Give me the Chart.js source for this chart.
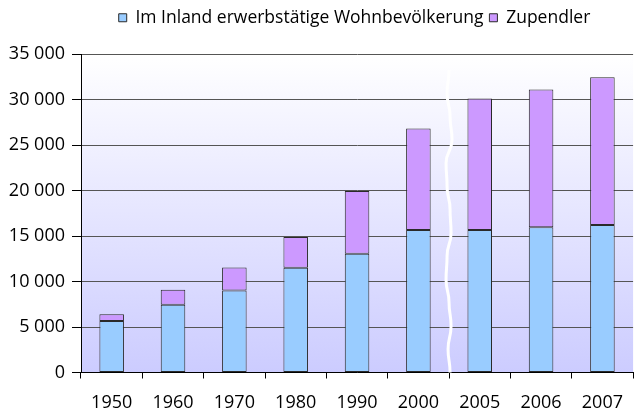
<!DOCTYPE html>
<html>
<head>
<meta charset="utf-8">
<script src="https://cdn.jsdelivr.net/npm/chart.js@4"></script>
<style>
  html, body { margin: 0; padding: 0; background: #fff; }
  #wrap { width: 635px; height: 409px; }
</style>
</head>
<body>
<div id="wrap"><canvas id="chart"></canvas></div>
<script>
const years = ["1950", "1960", "1970", "1980", "1990", "2000", "2005", "2006", "2007"];
const wohnbevoelkerung = [5650, 7450, 9000, 11500, 13050, 15650, 15650, 15950, 16200];
const zupendler = [750, 1650, 2550, 3400, 6900, 11150, 14450, 15150, 16250];
const yTicks = [0, 5000, 10000, 15000, 20000, 25000, 30000, 35000];

const FONT = "'Open Sans', 'DejaVu Sans', sans-serif";

function fmt(v) {
  return String(v).replace(/\B(?=(\d{3})+(?!\d))/g, " ");
}

// gradient behind the plot area
const bgPlugin = {
  id: "bg",
  beforeDraw(chart) {
    const { ctx, chartArea: a } = chart;
    const g = ctx.createLinearGradient(0, a.top, 0, a.bottom);
    g.addColorStop(0, "#ffffff");
    g.addColorStop(1, "#ccccff");
    ctx.save();
    ctx.fillStyle = g;
    ctx.fillRect(a.left, a.top, a.right - a.left, a.bottom - a.top);
    ctx.restore();
  }
};

// legend band: fixed height, and centred a bit right of the canvas middle like the original
const legendPlace = {
  id: "legendPlace",
  beforeUpdate(chart) {
    const lg = chart.legend;
    if (!lg || lg._fixed) return;
    const fit = lg.fit;
    lg.fit = function () {
      fit.call(this);
      this.height = 54;
    };
    lg._fixed = true;
  },
  afterLayout(chart) {
    const lg = chart.legend;
    if (!lg) return;
    lg.left += 74;
    lg.top += 3;
  }
};

// white wavy axis-break line between 2000 and 2005
const breakPlugin = {
  id: "axisBreak",
  afterDatasetsDraw(chart) {
    const { ctx, chartArea: a, scales } = chart;
    const x0 = (scales.x.getPixelForValue(5) + scales.x.getPixelForValue(6)) / 2;
    const wiggle = [0, -2, 1, 3, -3, -2, 1, 2, -2, -3, 0, 2, -1, 1];
    const top = a.top + 16;
    const step = (a.bottom - top) / (wiggle.length - 1);
    ctx.save();
    ctx.strokeStyle = "#ffffff";
    ctx.lineWidth = 3;
    ctx.beginPath();
    wiggle.forEach((w, i) => {
      const y = top + i * step;
      if (i === 0) ctx.moveTo(x0 + w, y);
      else {
        const py = top + (i - 1) * step;
        ctx.bezierCurveTo(x0 + wiggle[i - 1], py + step / 2, x0 + w, py + step / 2, x0 + w, y);
      }
    });
    ctx.stroke();
    ctx.restore();
  }
};

new Chart(document.getElementById("chart"), {
  type: "bar",
  data: {
    labels: years,
    datasets: [
      {
        label: "Im Inland erwerbstätige Wohnbevölkerung",
        data: wohnbevoelkerung,
        backgroundColor: "#99ccff",
        borderColor: "#2a2a2a",
        borderWidth: 1,
        borderSkipped: false,
        barPercentage: 0.8,
        categoryPercentage: 0.5
      },
      {
        label: "Zupendler",
        data: zupendler,
        backgroundColor: "#cc99ff",
        borderColor: "#2a2a2a",
        borderWidth: 1,
        borderSkipped: false,
        barPercentage: 0.8,
        categoryPercentage: 0.5
      }
    ]
  },
  options: {
    responsive: true,
    maintainAspectRatio: false,
    animation: false,
    layout: { padding: 0 },
    plugins: {
      legend: {
        position: "top",
        labels: {
          font: { family: FONT, size: 17.5 },
          color: "#000",
          boxWidth: 8,
          boxHeight: 8,
          padding: 6
        }
      },
      tooltip: { enabled: false }
    },
    scales: {
      x: {
        stacked: true,
        offset: true,
        afterFit(scale) { scale.height = 36.5; },
        grid: {
          offset: true,
          drawOnChartArea: false,
          drawTicks: true,
          tickLength: 6,
          color: "#000"
        },
        border: { color: "#000", width: 1 },
        ticks: {
          font: { family: FONT, size: 18, lineHeight: 1.4 },
          color: "#000",
          padding: 12,
          maxRotation: 0
        }
      },
      y: {
        stacked: true,
        min: 0,
        max: 35000,
        afterFit(scale) { scale.width = 81; },
        afterBuildTicks(scale) { scale.ticks = yTicks.map(v => ({ value: v })); },
        grid: {
          color: "#555555",
          tickLength: 9,
          tickColor: "#000"
        },
        border: { color: "#000", width: 1 },
        ticks: {
          font: { family: FONT, size: 18 },
          color: "#000",
          padding: 7,
          callback: v => fmt(v)
        }
      }
    }
  },
  plugins: [bgPlugin, legendPlace, breakPlugin]
});
</script>
</body>
</html>
